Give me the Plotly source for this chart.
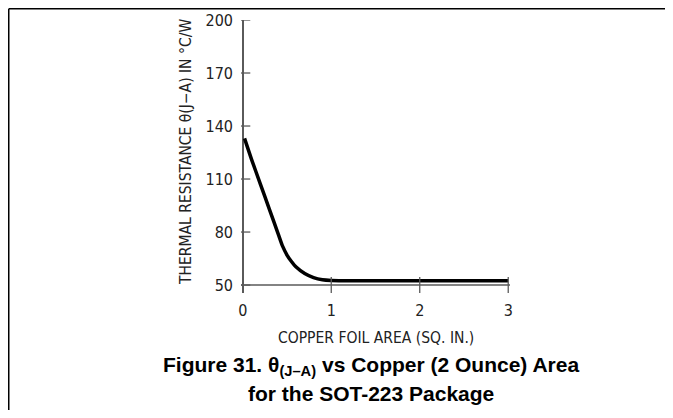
"""Thermal resistance vs copper foil area (SOT-223), redrawn with Plotly."""

import plotly.graph_objects as go

# Data
copper_area = [0.02, 0.1, 0.2, 0.3, 0.4, 0.45, 0.5, 0.55, 0.6, 0.7, 0.8, 0.9, 1.0, 1.5, 2.0, 2.5, 3.0]
theta_ja = [133, 121, 107, 93, 79, 72, 67, 63.3, 60.3, 56.5, 54.2, 53, 52.6, 52.4, 52.4, 52.4, 52.4]

x_ticks = [0, 1, 2, 3]
y_ticks = [50, 80, 110, 140, 170, 200]

x_title = "COPPER FOIL AREA (SQ. IN.)"
y_title = "THERMAL RESISTANCE θ(J−A) IN °C/W"
caption_1 = "<b>Figure 31. θ<sub>(J–A)</sub> vs Copper (2 Ounce) Area</b>"
caption_2 = "<b>for the SOT-223 Package</b>"

# the page body has an 8px margin; size the figure so it fits the 673x418 window
PAGE_OFF = 8
W, H = 673 - 2 * PAGE_OFF, 418 - 2 * PAGE_OFF
# plot area in page px: x 241..510, y 20..293
M = dict(l=241 - PAGE_OFF, r=W - (510 - PAGE_OFF), t=20 - PAGE_OFF, b=H - (293 - PAGE_OFF))
X_RANGE = [-0.02, 3.02]
Y_RANGE = [45.5, 200]

NARROW = "DejaVu Sans Condensed, Liberation Sans Narrow, Arial Narrow, sans-serif"
CAPTION_FONT = "Liberation Sans, Arial, sans-serif"
AXIS_GREY = "#5a5a5a"

plot_w = W - M["l"] - M["r"]
plot_h = H - M["t"] - M["b"]


def px_to_paper_x(px):
    """Page pixel x -> paper coordinate."""
    return (px - PAGE_OFF - M["l"]) / plot_w


def px_to_paper_y(py):
    """Page pixel y -> paper coordinate."""
    return (H - M["b"] - (py - PAGE_OFF)) / plot_h


fig = go.Figure()
fig.add_trace(go.Scatter(
    x=copper_area, y=theta_ja, mode="lines",
    line=dict(color="black", width=3.5, shape="spline", smoothing=0.6),
    hoverinfo="x+y", showlegend=False,
))

shapes = []
# horizontal axis line at y = 50
shapes.append(dict(type="line", xref="x", yref="y", x0=X_RANGE[0], x1=X_RANGE[1],
                   y0=y_ticks[0], y1=y_ticks[0], line=dict(color=AXIS_GREY, width=1.5)))
# tick marks crossing the axes
for v in y_ticks:
    shapes.append(dict(type="line", xref="x", yref="y", x0=-0.085, x1=0.085, y0=v, y1=v,
                       line=dict(color=AXIS_GREY, width=1.3)))
for v in x_ticks:
    shapes.append(dict(type="line", xref="x", yref="y", x0=v, x1=v,
                       y0=y_ticks[0] - 4.5, y1=y_ticks[0] + 4.5,
                       line=dict(color=AXIS_GREY, width=1.3)))
# page frame (top and left rule)
shapes.append(dict(type="line", xref="paper", yref="paper",
                   x0=px_to_paper_x(8.75), x1=px_to_paper_x(700),
                   y0=px_to_paper_y(8.75), y1=px_to_paper_y(8.75),
                   line=dict(color="black", width=1.5)))
shapes.append(dict(type="line", xref="paper", yref="paper",
                   x0=px_to_paper_x(8.75), x1=px_to_paper_x(8.75),
                   y0=px_to_paper_y(8.75), y1=px_to_paper_y(450),
                   line=dict(color="black", width=1.5)))

annotations = [
    dict(text=y_title, xref="paper", yref="paper", x=px_to_paper_x(186), y=px_to_paper_y(152),
         textangle=-90, showarrow=False, xanchor="center", yanchor="middle",
         font=dict(family=NARROW, size=15.5, color="#222")),
    dict(text=x_title, xref="paper", yref="paper", x=px_to_paper_x(376), y=px_to_paper_y(338),
         showarrow=False, xanchor="center", yanchor="middle",
         font=dict(family=NARROW, size=15.5, color="#222")),
    dict(text=caption_1, xref="paper", yref="paper", x=px_to_paper_x(371), y=px_to_paper_y(366),
         showarrow=False, xanchor="center", yanchor="middle",
         font=dict(family=CAPTION_FONT, size=21, color="black")),
    dict(text=caption_2, xref="paper", yref="paper", x=px_to_paper_x(371), y=px_to_paper_y(393),
         showarrow=False, xanchor="center", yanchor="middle",
         font=dict(family=CAPTION_FONT, size=21, color="black")),
]

fig.update_layout(
    width=W, height=H, margin=M,
    paper_bgcolor="white", plot_bgcolor="white",
    shapes=shapes, annotations=annotations,
    xaxis=dict(range=X_RANGE, tickvals=x_ticks, ticks="", showgrid=False, showline=False,
               zeroline=True, zerolinecolor=AXIS_GREY, zerolinewidth=1.5,
               ticklabelstandoff=6, fixedrange=True, automargin=False,
               tickfont=dict(family=NARROW, size=16, color="#222")),
    yaxis=dict(range=Y_RANGE, tickvals=y_ticks, ticks="", showgrid=False, showline=False,
               zeroline=False, ticklabelstandoff=7, fixedrange=True, automargin=False,
               tickfont=dict(family=NARROW, size=16, color="#222")),
)

fig.write_html("out.html")
